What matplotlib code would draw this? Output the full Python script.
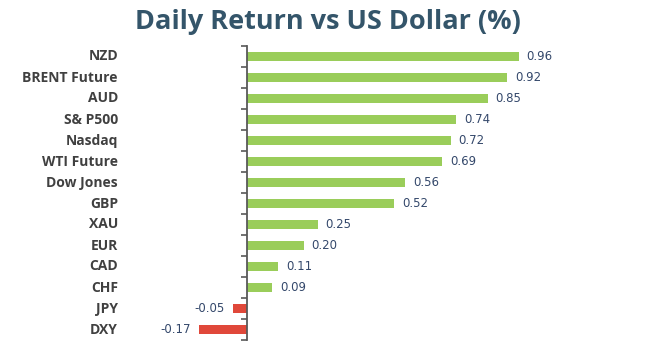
import numpy as np
import matplotlib.pyplot as plt

# --- data (top to bottom)
labels = ['NZD', 'BRENT Future', 'AUD', 'S& P500', 'Nasdaq', 'WTI Future', 'Dow Jones',
          'GBP', 'XAU', 'EUR', 'CAD', 'CHF', 'JPY', 'DXY']
values = [0.96, 0.92, 0.85, 0.74, 0.72, 0.69, 0.56, 0.52, 0.25, 0.20, 0.11, 0.09, -0.05, -0.17]

green = '#9acd5a'
red = '#e0483a'
W, H = 645, 354

fig = plt.figure(figsize=(W/100, H/100), dpi=100)

# axes placed in pixel coordinates
x0, x1 = 180, 620
y_top, y_bot = 46, 340
ax = fig.add_axes((x0/W, 1 - y_bot/H, (x1 - x0)/W, (y_bot - y_top)/H))

scale = 283.  # px per unit
ax.set_xlim(-(247 - x0)/scale, (x1 - 247)/scale)

n = len(labels)
y = np.arange(n)
colors = [green if v >= 0 else red for v in values]
ax.barh(y, values, height=0.43, color=colors)
ax.set_ylim(n - 0.5, -0.5)

# --- value labels
for yi, v in zip(y, values):
    if v >= 0:
        ax.text(v + 0.028, yi, f'{v:.2f}', va='center', ha='left', fontsize=8.5, color='#34486b')
    else:
        ax.text(v - 0.028, yi, f'{v:.2f}', va='center', ha='right', fontsize=8.5, color='#34486b')

for s in ['top', 'right', 'bottom']:
    ax.spines[s].set_visible(False)
ax.spines['left'].set_position(('data', 0))
ax.spines['left'].set_color('#595959')
ax.spines['left'].set_linewidth(1.3)
ax.set_xticks([])

# tick marks at category boundaries, labels drawn separately
ax.set_yticks(y)
ax.set_yticklabels([])
ax.tick_params(axis='y', which='major', length=0)
ax.set_yticks(np.arange(n + 1) - 0.5, minor=True)
ax.tick_params(axis='y', which='minor', length=4, width=1.2, color='#595959', direction='out')

for yi, lab in zip(y, labels):
    ax.text(-(247 - 118)/scale, yi, lab, ha='right', va='center', fontsize=10,
            fontweight='bold', color='#404040', family='Open Sans')

fig.text(328/W, 1 - 22/H, 'Daily Return vs US Dollar (%)', ha='center', va='center',
         fontsize=19.5, fontweight='bold', color='#34556a', family='Open Sans')

fig.savefig('out.png', dpi=100)
